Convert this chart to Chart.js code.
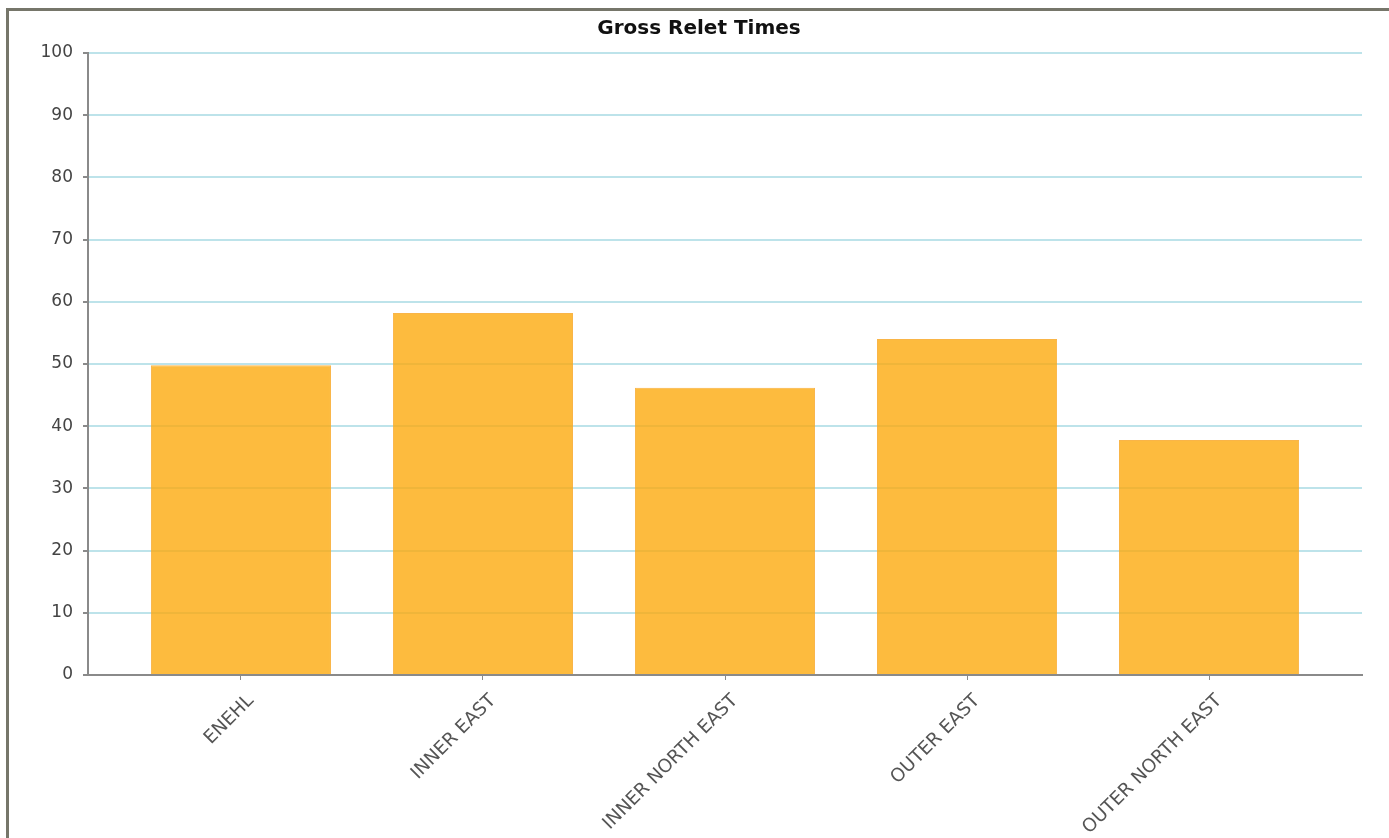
<!DOCTYPE html>
<html>
<head>
<meta charset="utf-8">
<title>Gross Relet Times</title>
<script src="https://cdn.jsdelivr.net/npm/chart.js@4.4.1/dist/chart.umd.min.js"></script>
<style>
    html, body { margin: 0; padding: 0; background: #fff; overflow: hidden; }
    .frame {
        position: absolute;
        left: 6px;
        top: 8px;
        width: 1400px;
        height: 850px;
        border-left: 3px solid #76766a;
        border-top: 3px solid #76766a;
    }
    .frame canvas { display: block; }
</style>
</head>
<body>
<div class="frame">
    <canvas id="relet-chart" width="1380" height="827"></canvas>
</div>
<script>
// -----------------------------
// Data
// -----------------------------
const areas = ['ENEHL', 'INNER EAST', 'INNER NORTH EAST', 'OUTER EAST', 'OUTER NORTH EAST'];
const reletDays = [49.8, 58.2, 46.2, 54.0, 37.8];
const yTicks = [0, 10, 20, 30, 40, 50, 60, 70, 80, 90, 100];

// -----------------------------
// Chart
// -----------------------------
const points = areas.map((_, i) => ({ x: i, y: reletDays[i] }));

const ctx = document.getElementById('relet-chart').getContext('2d');
new Chart(ctx, {
    type: 'bar',
    data: {
        datasets: [{
            label: 'Gross Relet Times',
            data: points,
            backgroundColor: 'rgba(252, 168, 8, 0.78)',
            borderColor: 'rgba(248, 168, 40, 0.85)',
            borderWidth: 1,
            categoryPercentage: 1,
            barPercentage: 0.744,
        }]
    },
    options: {
        responsive: false,
        animation: false,
        layout: { padding: 0 },
        plugins: {
            legend: { display: false },
            tooltip: { enabled: false },
            title: {
                display: true,
                text: 'Gross Relet Times',
                color: '#111',
                font: { family: 'DejaVu Sans', size: 20, weight: 'bold' },
                padding: { top: 6, bottom: 12 },
            },
        },
        scales: {
            x: {
                type: 'linear',
                min: -0.632,
                max: 4.632,
                offset: false,
                afterBuildTicks: scale => {
                    scale.ticks = areas.map((_, i) => ({ value: i }));
                },
                afterFit: scale => { scale.height = 163; },
                ticks: {
                    autoSkip: false,
                    minRotation: 45,
                    maxRotation: 45,
                    padding: 10,
                    labelOffset: 10,
                    color: '#555',
                    font: { family: 'DejaVu Sans', size: 18.5 },
                    callback: value => areas[value] ?? '',
                },
                grid: {
                    offset: false,
                    drawOnChartArea: false,
                    tickLength: 5,
                    tickColor: '#8a8a8a',
                },
                border: { color: '#8a8a8a', width: 2 },
            },
            y: {
                min: 0,
                max: 100,
                afterBuildTicks: scale => {
                    scale.ticks = yTicks.map(v => ({ value: v }));
                },
                afterFit: scale => { scale.width = 79; },
                ticks: {
                    padding: 10,
                    color: '#444',
                    font: { family: 'DejaVu Sans', size: 17 },
                },
                grid: {
                    color: '#bde3ea',
                    lineWidth: 2,
                    tickLength: 5,
                    tickColor: '#8a8a8a',
                },
                border: { color: '#8a8a8a', width: 2 },
            },
            // empty right-hand margin so the title stays centred on the whole chart
            gutter: {
                type: 'linear',
                position: 'right',
                afterFit: scale => { scale.width = 27; },
                ticks: { display: false },
                grid: { display: false, drawTicks: false },
                border: { display: false },
            },
        },
    },
});
</script>
</body>
</html>
